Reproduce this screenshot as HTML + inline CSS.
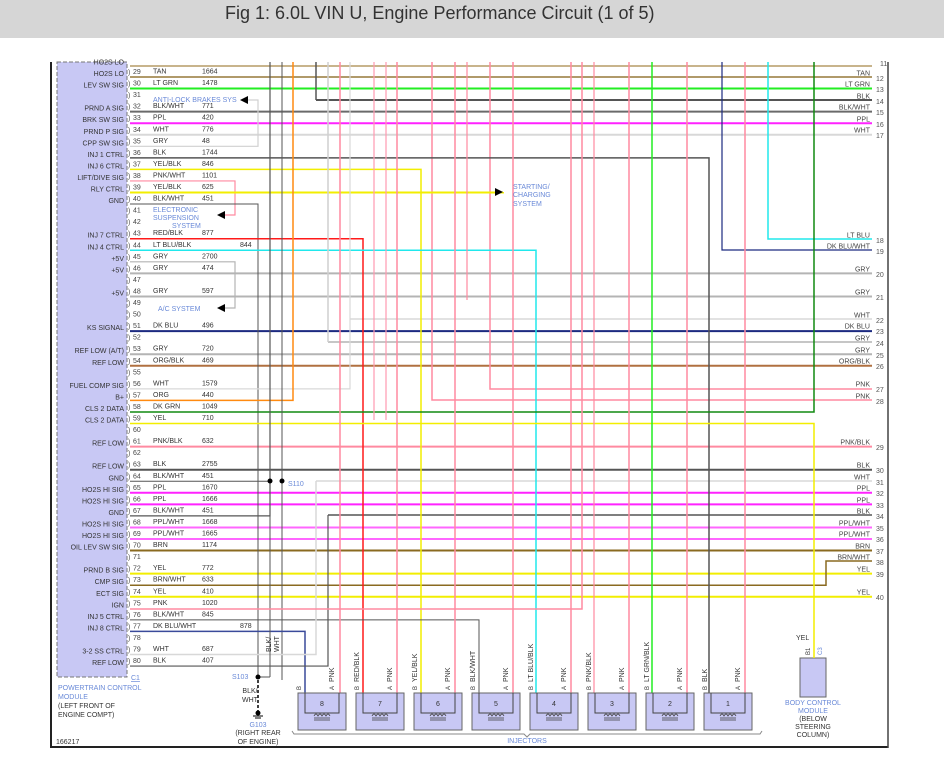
<!DOCTYPE html>
<html><head><meta charset="utf-8">
<style>
html,body{margin:0;padding:0;background:#fff;width:944px;height:778px;overflow:hidden}
svg{display:block}
text{font-family:"Liberation Sans",sans-serif}
</style></head><body>
<svg id="s" width="944" height="778" xmlns="http://www.w3.org/2000/svg"></svg>
<script>
var o='';
function L(x1,y1,x2,y2,c,w,extra){o+='<line x1="'+x1+'" y1="'+y1+'" x2="'+x2+'" y2="'+y2+'" stroke="'+c+'" stroke-width="'+(w||1.5)+'" '+(extra||'')+'/>';}
function P(pts,c,w){o+='<polyline points="'+pts+'" fill="none" stroke="'+c+'" stroke-width="'+(w||1.5)+'"/>';}
function T(x,y,s,sz,c,anc,extra){o+='<text x="'+x+'" y="'+y+'" font-size="'+(sz||7)+'" fill="'+(c||'#333')+'"'+(anc?' text-anchor="'+anc+'"':'')+' '+(extra||'')+'>'+s+'</text>';}
var C={TAN:'#c8b48c',TAN2:'#b09a6a',LG:'#22ee22',BLK:'#555',BW:'#6a6a6a',PPL:'#ff22ff',WHT:'#d8d8d8',GRY:'#b4b4b4',YEL:'#f2ee00',PNK:'#ff8aa0',RED:'#ff1a1a',LB:'#20e8ec',DB:'#1c2a80',DBW:'#3a4a9a',ORG:'#ff8a10',OB:'#b07040',DG:'#108a10',BRN:'#8a6a20',PW:'#ff66ff'};
function ly(p){return 77+(p-29)*11.55;}
o+='<rect x="0" y="0" width="944" height="38" fill="#d6d6d6"/>';
T(225,19,'Fig 1: 6.0L VIN U, Engine Performance Circuit (1 of 5)',18,'#333');
L(51,62,51,748,'#222',2);L(50,747,888,747,'#222',2);L(888,62,888,748,'#444',1.5);
o+='<rect x="57" y="62" width="70" height="615" fill="#c8c8f4" stroke="#777" stroke-dasharray="4,2"/>';
L(130,66,872,66,C.TAN,2);
var right=[[29,C.TAN2,'TAN',12],[30,C.LG,'LT GRN',13],[32,C.BW,'BLK/WHT',15],[33,C.PPL,'PPL',16],[34,C.WHT,'WHT',17],
[46,C.GRY,'GRY',20],[48,C.GRY,'GRY',21],[51,C.DB,'DK BLU',23],[53,C.GRY,'GRY',25],[54,C.OB,'ORG/BLK',26],
[61,C.PNK,'PNK/BLK',29],[63,C.BLK,'BLK',30],[65,C.PPL,'PPL',32],[66,C.PPL,'PPL',33],[68,C.PW,'PPL/WHT',35],[69,C.PW,'PPL/WHT',36],
[70,C.BRN,'BRN',37],[72,C.YEL,'YEL',39],[74,C.YEL,'YEL',40]];
right.forEach(function(r){var y=ly(r[0]);L(130,y,872,y,r[1],2);});
T(872,66,'11',7,'#555','start','dx="8"');
var rl=[[77,'TAN',12],[88,'LT GRN',13],[100,'BLK',14],[111,'BLK/WHT',15],[123,'PPL',16],[134,'WHT',17],[239,'LT BLU',18],[250,'DK BLU/WHT',19],[273,'GRY',20],[296,'GRY',21],[319,'WHT',22],[330,'DK BLU',23],[342,'GRY',24],[354,'GRY',25],[365,'ORG/BLK',26],[388,'PNK',27],[400,'PNK',28],[446,'PNK/BLK',29],[469,'BLK',30],[481,'WHT',31],[492,'PPL',32],[504,'PPL',33],[515,'BLK',34],[527,'PPL/WHT',35],[538,'PPL/WHT',36],[550,'BRN',37],[561,'BRN/WHT',38],[573,'YEL',39],[596,'YEL',40]];
rl.forEach(function(r){T(870,r[0]-1.5,r[1],7,'#444','end');T(876,r[0]+4,r[2],7,'#555');});
L(316,100,872,100,C.BLK,2);P('316,62 316,100',C.BLK,1.5);
P('768,62 768,239 872,239',C.LB,1.5);P('722,62 722,250 872,250',C.DB,1.2);
L(350,319,872,319,C.WHT,1.5);L(328,342,872,342,C.GRY,1.5);
P('490,62 490,389 872,389',C.PNK,1.5);P('432,62 432,400 872,400',C.PNK,1.5);
P('316,481 872,481',C.WHT,1.5);P('328,515 872,515',C.BLK,1.5);
P('130,'+ly(73)+' 826,'+ly(73)+' 826,561 872,561',C.BRN,1.5);
P('130,'+ly(35)+' 258,'+ly(35)+' 258,100 248,100','#d0d0d0',1.2);
P('130,'+ly(36)+' 709,'+ly(36)+' 709,693',C.BLK,1.5);
P('130,'+ly(37)+' 421,'+ly(37)+' 421,693',C.YEL,1.5);
P('130,'+ly(38)+' 235,'+ly(38)+' 235,215 225,215',C.PNK,1.2);
P('130,'+ly(39)+' 503,'+ly(39)+' 503,192',C.YEL,2);
P('130,'+ly(40)+' 258,'+ly(40)+' 258,677',C.BLK,1);
P('130,'+ly(43)+' 363,'+ly(43)+' 363,693',C.RED,1.5);
P('130,'+ly(44)+' 536,'+ly(44)+' 536,693',C.LB,1.5);
P('130,'+ly(45)+' 235,'+ly(45)+' 235,308 225,308',C.GRY,1.2);
P('130,'+ly(56)+' 350,'+ly(56)+' 350,62',C.WHT,1.2);
P('130,'+ly(57)+' 293,'+ly(57)+' 293,62',C.ORG,1.5);
P('130,'+ly(58)+' 814,'+ly(58)+' 814,62',C.DG,1.5);
P('130,'+ly(59)+' 814,'+ly(59)+' 814,596',C.YEL,1.5);
P('130,'+ly(64)+' 270,'+ly(64),C.BLK,1);
P('130,'+ly(67)+' 270,'+ly(67)+' 270,62',C.BLK,1.2);
P('282,62 282,677',C.BLK,1);
P('130,'+ly(76)+' 479,'+ly(76)+' 479,693',C.BLK,1);
P('130,'+ly(77)+' 305,'+ly(77)+' 305,693',C.DBW,1.5);
P('130,'+ly(79)+' 316,'+ly(79)+' 316,481',C.WHT,1.5);
P('130,'+ly(80)+' 328,'+ly(80)+' 328,515',C.BLK,1.2);
P('270,515 270,677',C.BLK,1);
P('328,62 328,342','#cfcfcf',1.5);
[340,397,455,513,571,629,687,745].forEach(function(x){L(x,62,x,693,C.PNK,1.5);});
P('374,62 374,420','#ff9ab0',1.2);P('386,62 386,420','#ff9ab0',1.2);P('467,62 467,300',C.PNK,1.2);
P('582,62 582,609 130,609',C.PNK,1.5);P('594,62 594,693',C.PNK,1.2);
L(652,62,652,693,C.LG,1.5);L(270,62,270,515,C.BLK,1);
o+='<circle cx="270" cy="481" r="2.5" fill="#000"/><circle cx="282" cy="481" r="2.5" fill="#000"/>';
T(288,486,'S110',7,'#6a8ad8');
T(153,102,'ANTI-LOCK BRAKES SYS',7,'#6a8ad8');o+='<polygon points="240,100 248,96 248,104" fill="#000"/>';
T(153,212,'ELECTRONIC',7,'#6a8ad8');T(153,220,'SUSPENSION',7,'#6a8ad8');T(172,228,'SYSTEM',7,'#6a8ad8');o+='<polygon points="217,215 225,211 225,219" fill="#000"/>';
T(158,311,'A/C SYSTEM',7,'#6a8ad8');o+='<polygon points="217,308 225,304 225,312" fill="#000"/>';
T(513,189,'STARTING/',7,'#6a8ad8');T(513,197,'CHARGING',7,'#6a8ad8');T(513,206,'SYSTEM',7,'#6a8ad8');o+='<polygon points="503,192 495,188 495,196" fill="#000"/>';
var pl={28:'HO2S LO',29:'HO2S LO',30:'LEV SW SIG',32:'PRND A SIG',33:'BRK SW SIG',34:'PRND P SIG',35:'CPP SW SIG',36:'INJ 1 CTRL',37:'INJ 6 CTRL',38:'LIFT/DIVE SIG',39:'RLY CTRL',40:'GND',43:'INJ 7 CTRL',44:'INJ 4 CTRL',45:'+5V',46:'+5V',48:'+5V',51:'KS SIGNAL',53:'REF LOW (A/T)',54:'REF LOW',56:'FUEL COMP SIG',57:'B+',58:'CLS 2 DATA',59:'CLS 2 DATA',61:'REF LOW',63:'REF LOW',64:'GND',65:'HO2S HI SIG',66:'HO2S HI SIG',67:'GND',68:'HO2S HI SIG',69:'HO2S HI SIG',70:'OIL LEV SW SIG',72:'PRND B SIG',73:'CMP SIG',74:'ECT SIG',75:'IGN',76:'INJ 5 CTRL',77:'INJ 8 CTRL',79:'3-2 SS CTRL',80:'REF LOW'};
var wl={29:['TAN','1664'],30:['LT GRN','1478'],32:['BLK/WHT','771'],33:['PPL','420'],34:['WHT','776'],35:['GRY','48'],36:['BLK','1744'],37:['YEL/BLK','846'],38:['PNK/WHT','1101'],39:['YEL/BLK','625'],40:['BLK/WHT','451'],43:['RED/BLK','877'],44:['LT BLU/BLK','844'],45:['GRY','2700'],46:['GRY','474'],48:['GRY','597'],51:['DK BLU','496'],53:['GRY','720'],54:['ORG/BLK','469'],56:['WHT','1579'],57:['ORG','440'],58:['DK GRN','1049'],59:['YEL','710'],61:['PNK/BLK','632'],63:['BLK','2755'],64:['BLK/WHT','451'],65:['PPL','1670'],66:['PPL','1666'],67:['BLK/WHT','451'],68:['PPL/WHT','1668'],69:['PPL/WHT','1665'],70:['BRN','1174'],72:['YEL','772'],73:['BRN/WHT','633'],74:['YEL','410'],75:['PNK','1020'],76:['BLK/WHT','845'],77:['DK BLU/WHT','878'],79:['WHT','687'],80:['BLK','407']};
for(var p in pl){T(124,ly(+p)-1,pl[p],7,'#333','end');}
for(var p=29;p<=80;p++){var y=ly(p)-5.5;T(133,y+2.5,''+p,7,'#444');T(128,y+3,')',7,'#555');
 if(wl[p]){T(153,y+2,wl[p][0],7,'#333');T(p==44||p==77?240:202,y+2,wl[p][1],7,'#333');}}
T(131,680,'C1',7,'#6a8ad8','start','text-decoration="underline"');
T(58,690,'POWERTRAIN CONTROL',7,'#6a8ad8');T(58,699,'MODULE',7,'#6a8ad8');T(58,708,'(LEFT FRONT OF',7,'#333');T(58,717,'ENGINE COMPT)',7,'#333');
T(56,744,'166217',7,'#333');
P('282,677 282,680',C.BLK,1);L(270,677,258,677,C.BLK,1);
o+='<circle cx="258" cy="677" r="2.5" fill="#000"/>';T(232,679,'S103',7,'#6a8ad8');
L(258,680,258,712,'#000',1.5,'stroke-dasharray="3,2"');
o+='<circle cx="258" cy="713" r="2.5" fill="#000"/>';L(253,716,263,716,'#000',1);L(255,718,261,718,'#000',1);
T(250,693,'BLK/',7,'#333','middle');T(250,702,'WHT',7,'#333','middle');
T(258,727,'G103',7,'#6a8ad8','middle');T(258,735,'(RIGHT REAR',7,'#333','middle');T(258,744,'OF ENGINE)',7,'#333','middle');
T(271,652,'BLK/',7,'#333','start','transform="rotate(-90 271 652)"');T(279,652,'WHT',7,'#333','start','transform="rotate(-90 279 652)"');
var wires=['','BLK','LT GRN/BLK','PNK/BLK','LT BLU/BLK','BLK/WHT','YEL/BLK','RED/BLK',''];
for(var i=0;i<8;i++){var n=8-i;var x=298+i*58;
 o+='<rect x="'+x+'" y="693" width="48" height="37" fill="#c8c8f4" stroke="#666"/>';
 P((x+7)+',693 '+(x+7)+',713 '+(x+41)+',713 '+(x+41)+',693','#444',1);
 o+='<path d="M'+(x+16)+','+716+' q2,-4 4,0 q2,-4 4,0 q2,-4 4,0 q2,-4 4,0" fill="none" stroke="#444" stroke-width="0.8"/>';
 L(x+16,718,x+32,718,'#444',0.8);L(x+16,720,x+32,720,'#444',0.8);
 T(x+24,706,''+n,7,'#333','middle');
 T(x+3,690,'B',6,'#333','start','transform="rotate(-90 '+(x+3)+' 690)"');
 T(x+36,690,'A',6,'#333','start','transform="rotate(-90 '+(x+36)+' 690)"');
 T(x+36,682,'PNK',7,'#333','start','transform="rotate(-90 '+(x+36)+' 682)"');
 if(wires[n])T(x+3,682,wires[n],7,'#333','start','transform="rotate(-90 '+(x+3)+' 682)"');}
P('292,731 294,734 524,734 527,737 530,734 760,734 762,731','#888',1);
T(527,743,'INJECTORS',7,'#6a8ad8','middle');
o+='<rect x="800" y="658" width="26" height="39" fill="#c8c8f4" stroke="#666"/>';
L(814,596,814,658,C.YEL,1.5);
T(796,640,'YEL',7,'#333');
T(810,655,'B1',6,'#333','start','transform="rotate(-90 810 655)"');T(822,655,'C3',6,'#6a8ad8','start','transform="rotate(-90 822 655)"');
T(813,705,'BODY CONTROL',7,'#6a8ad8','middle');T(813,713,'MODULE',7,'#6a8ad8','middle');T(813,721,'(BELOW',7,'#333','middle');T(813,729,'STEERING',7,'#333','middle');T(813,737,'COLUMN)',7,'#333','middle');
document.getElementById('s').innerHTML=o;
</script>
</body></html>
